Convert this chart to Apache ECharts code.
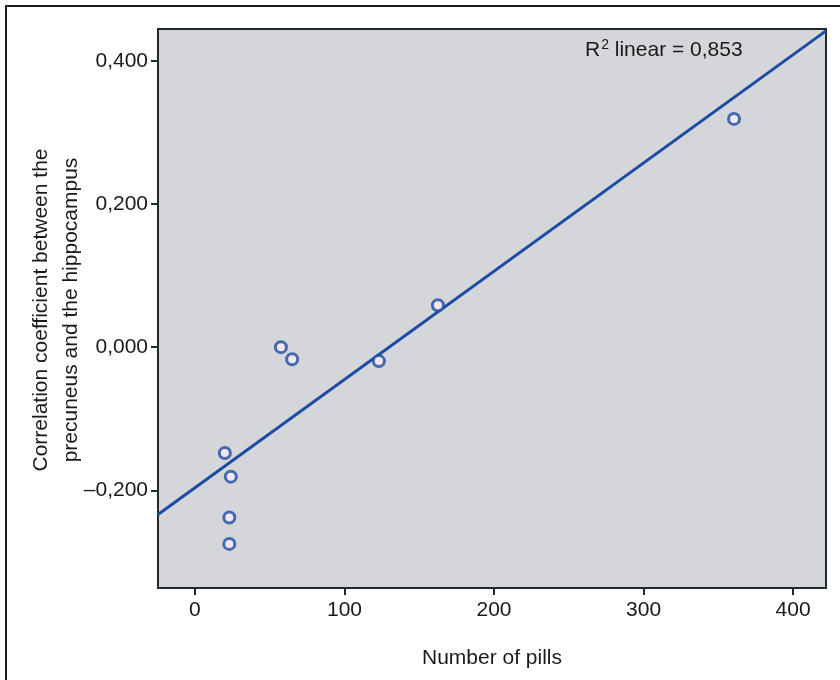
<!DOCTYPE html>
<html>
<head>
<meta charset="utf-8">
<script src="https://cdn.jsdelivr.net/npm/echarts@6/dist/echarts.min.js"></script>
<style>html,body{margin:0;padding:0;background:#fff;}#chart{width:840px;height:680px;}</style>
</head>
<body>
<div id="chart"></div>
<script>
// Data
const pills = [20, 24, 23, 23, 57.5, 65, 123, 162.5, 360.5];
const corrCoef = [-0.148, -0.181, -0.238, -0.275, 0.0, -0.017, -0.0195, 0.0585, 0.319];
const fitX = [-24.7, 422];
const fitY = [-0.234, 0.442];
const xTicks = [0, 100, 200, 300, 400];
const yTicks = [-0.2, 0, 0.2, 0.4];
const r2Text = '0,853';
const yTitle = 'Correlation coefficient between the\nprecuneus and the hippocampus';
const xTitle = 'Number of pills';

const points = pills.map((x, i) => [x, corrCoef[i]]);
const fitLine = fitX.map((x, i) => [x, fitY[i]]);
const fmtY = v => (v < 0 ? '\u2013' : '') + Math.abs(v).toFixed(3).replace('.', ',');

const chart = echarts.init(document.getElementById('chart'));
const font = 'Liberation Sans, Arial, Helvetica, sans-serif';
chart.setOption({
  animation: false,
  backgroundColor: '#ffffff',
  grid: {
    left: 158, right: 14, top: 29, bottom: 92,
    containLabel: false, outerBoundsMode: 'none',
    show: true, backgroundColor: '#d5d6da', borderColor: '#1d2b2c', borderWidth: 2
  },
  xAxis: {
    type: 'value', min: fitX[0], max: fitX[1],
    name: xTitle, nameLocation: 'middle', nameGap: 60,
    nameTextStyle: { fontFamily: font, fontSize: 21, color: '#1a1a1a' },
    axisLine: { show: true, onZero: false, lineStyle: { color: '#1d2b2c', width: 2 } },
    axisTick: { show: true, customValues: xTicks, length: 7, lineStyle: { color: '#1d2b2c', width: 2 } },
    axisLabel: { customValues: xTicks, fontFamily: font, fontSize: 21, color: '#1a1a1a', margin: 12 },
    splitLine: { show: false }
  },
  yAxis: {
    type: 'value', min: -0.3366, max: 0.4446,
    axisLine: { show: true, onZero: false, lineStyle: { color: '#1d2b2c', width: 2 } },
    axisTick: { show: true, customValues: yTicks, length: 7, lineStyle: { color: '#1d2b2c', width: 2 } },
    axisLabel: { customValues: yTicks, formatter: fmtY, fontFamily: font, fontSize: 21, color: '#1a1a1a', margin: 10 },
    splitLine: { show: false }
  },
  graphic: [
    { type: 'polyline', shape: { points: [[6, 680], [6, 6], [840, 6]] }, style: { stroke: '#1a1a1a', lineWidth: 2, fill: null } },
    {
      type: 'text', x: 56, y: 310, rotation: Math.PI / 2,
      style: {
        text: yTitle, fontFamily: font, fontSize: 21, fill: '#1a1a1a', lineHeight: 30,
        align: 'center', verticalAlign: 'middle'
      }
    },
    {
      type: 'text', left: 585, top: 38,
      style: {
        text: '{b|R}{s|2}{b| linear = ' + r2Text + '}',
        rich: {
          b: { fontFamily: font, fontSize: 21, fill: '#1a1a1a', verticalAlign: 'bottom' },
          s: { fontFamily: font, fontSize: 14, fill: '#1a1a1a', verticalAlign: 'top', padding: [0, 0, 9, 1] }
        }
      }
    }
  ],
  series: [
    {
      type: 'line', data: fitLine, showSymbol: false, symbol: 'none',
      lineStyle: { color: '#1c4ca3', width: 3 }, z: 2
    },
    {
      type: 'scatter', data: points, symbol: 'circle', symbolSize: 11,
      itemStyle: { color: '#f6ecf2', borderColor: '#1c4ca3', borderWidth: 3 }, z: 3
    }
  ]
});
</script>
</body>
</html>
